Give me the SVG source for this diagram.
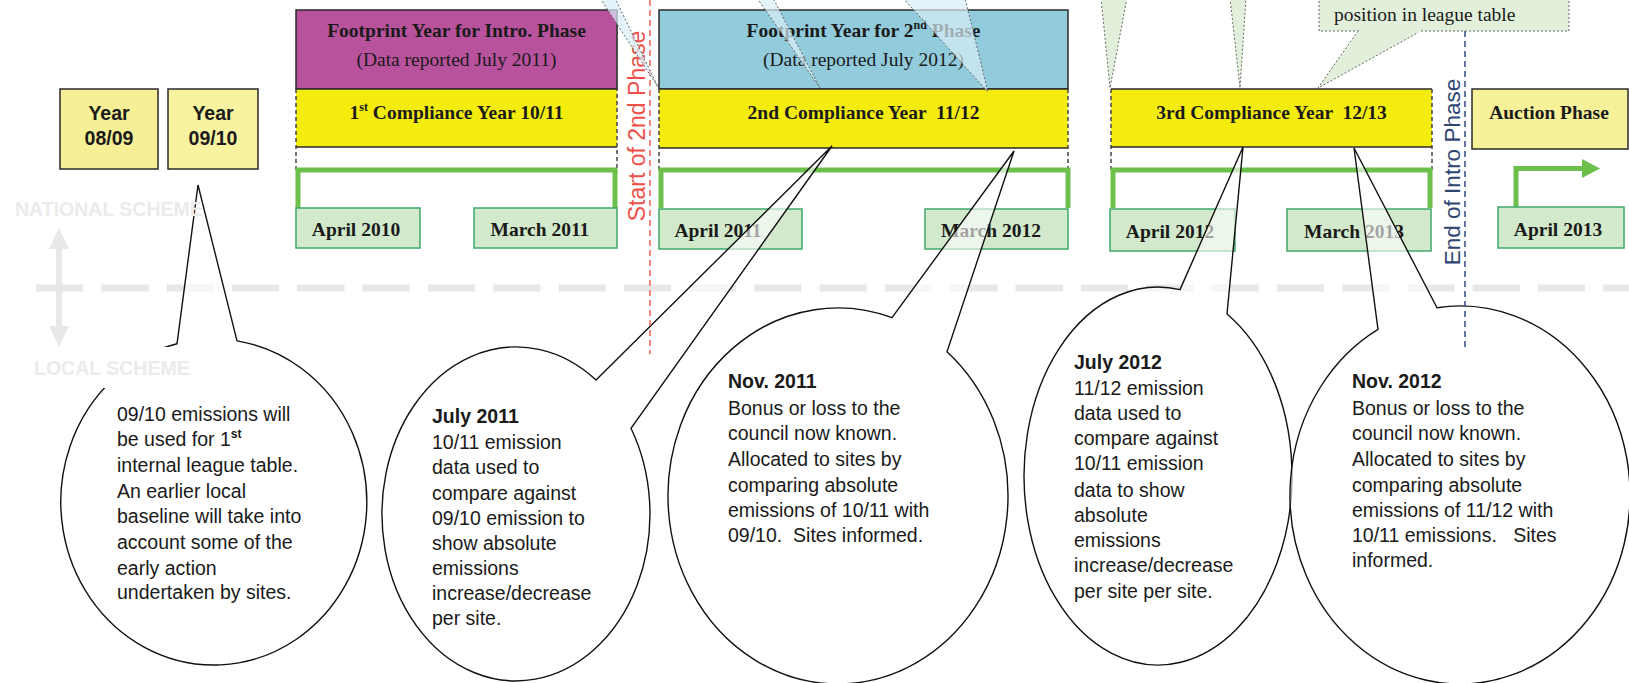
<svg xmlns="http://www.w3.org/2000/svg" width="1629" height="683" viewBox="0 0 1629 683">
<defs>
<style>
.serifb{font-family:"Liberation Serif","Times New Roman",serif;font-weight:bold;font-size:19.5px;fill:#1a1a1a}
.serif{font-family:"Liberation Serif","Times New Roman",serif;font-size:19.5px;fill:#1a1a1a}
.sans{font-family:"Liberation Sans",Arial,sans-serif;font-size:19.5px;fill:#1a1a1a}
.sansb{font-family:"Liberation Sans",Arial,sans-serif;font-size:19.5px;font-weight:bold;fill:#1a1a1a}
.box{stroke:#2a2a2a;stroke-width:1.5}
.solid{stroke:#2a2a2a;stroke-width:1.5;fill:none}
.date{fill:#d3e9cb;stroke:#3fa86a;stroke-width:1.5}
.bracket{fill:none;stroke:#6cbf4a;stroke-width:5}
.edge{stroke:#444;stroke-width:1.5;stroke-dasharray:4 3;fill:none}
.bubble{fill:#fff;fill-opacity:0.6;stroke:#111;stroke-width:1.4}
.wedgeb{fill:#d8eef7;fill-opacity:0.7;stroke:#666;stroke-width:1;stroke-dasharray:2 2}
.wedgeg{fill:#e2efda;stroke:#666;stroke-width:1;stroke-dasharray:2 2}
.scheme{font-family:"Liberation Sans",Arial,sans-serif;font-weight:bold;font-size:19.5px;fill:#ebebeb}
.mid{text-anchor:middle}
</style>
</defs>
<rect width="1629" height="683" fill="#fff"/>

<!-- background guides -->
<g id="guides">
  <line x1="36" y1="288" x2="1629" y2="288" stroke="#e8e8e8" stroke-width="7" stroke-dasharray="47.3 18"/>
  <line x1="59" y1="246" x2="59" y2="329" stroke="#e8e8e8" stroke-width="6"/>
  <polygon points="59,228 49,249 69,249" fill="#e8e8e8"/>
  <polygon points="59,347 49,326 69,326" fill="#e8e8e8"/>
</g>

<!-- year boxes -->
<g id="year0809">
  <rect x="60" y="89" width="98" height="80" fill="#f6ef96" class="box"/>
  <text class="sansb mid" x="109" y="120">Year</text>
  <text class="sansb mid" x="109" y="145">08/09</text>
</g>
<g id="year0910">
  <rect x="168" y="89" width="90" height="80" fill="#f7f3a0" class="box"/>
  <text class="sansb mid" x="213" y="120">Year</text>
  <text class="sansb mid" x="213" y="145">09/10</text>
</g>

<!-- phase 1 -->
<g id="footprint1">
  <rect x="296" y="10" width="321" height="79" fill="#b9529d" class="box"/>
  <text class="serifb mid" x="456.5" y="37">Footprint Year for Intro. Phase</text>
  <text class="serif mid" x="456.5" y="66">(Data reported July 2011)</text>
</g>
<g id="compliance1">
  <rect x="296" y="89" width="321" height="58" fill="#f4ec0c"/>
  <path class="solid" d="M296,89 H617 M296,147 H617"/>
  <path class="edge" d="M296,89 V172 M617,10 V172"/>
  <text class="serifb mid" x="456.5" y="119">1<tspan font-size="12" dy="-8">st</tspan><tspan dy="8"> Compliance Year 10/11</tspan></text>
</g>

<!-- phase 2 -->
<g id="footprint2">
  <rect x="659" y="10" width="409" height="79" fill="#92cbdc" class="box"/>
  <text class="serifb mid" x="863.5" y="37">Footprint Year for 2<tspan font-size="12" dy="-8">nd</tspan><tspan dy="8"> Phase</tspan></text>
  <text class="serif mid" x="863.5" y="66">(Data reported July 2012)</text>
</g>
<g id="compliance2">
  <rect x="659" y="89" width="409" height="59" fill="#f4ec0c"/>
  <path class="solid" d="M659,89 H1068 M659,148 H1068"/>
  <path class="edge" d="M659,89 V172 M1068,89 V172"/>
  <text class="serifb mid" x="863.5" y="119" xml:space="preserve">2nd Compliance Year  11/12</text>
</g>

<!-- phase 3 -->
<g id="compliance3">
  <rect x="1111" y="89" width="321" height="58" fill="#f4ec0c"/>
  <path class="solid" d="M1111,89 H1432 M1111,147 H1432"/>
  <path class="edge" d="M1111,89 V172 M1432,89 V172"/>
  <text class="serifb mid" x="1271.5" y="119" xml:space="preserve">3rd Compliance Year  12/13</text>
</g>

<g id="auction">
  <rect x="1472" y="89" width="156" height="60" fill="#f7f199" class="box"/>
  <text class="serifb mid" x="1549" y="119">Auction Phase</text>
</g>

<!-- green brackets -->
<g id="brackets">
  <path class="bracket" d="M298,208 V170 H615 V208"/>
  <path class="bracket" d="M661,208 V170 H1068 V208"/>
  <path class="bracket" d="M1113,208 V170 H1430 V208"/>
  <path class="bracket" d="M1516,207 V168.5 H1584"/>
  <polygon points="1582,159 1600,168.5 1582,178" fill="#6cbf4a"/>
</g>

<!-- date boxes -->
<g id="april2010"><rect class="date" x="296" y="208" width="124" height="40"/><text class="serifb mid" x="356" y="236">April 2010</text></g>
<g id="march2011"><rect class="date" x="474" y="208" width="143" height="40"/><text class="serifb mid" x="540" y="236">March 2011</text></g>
<g id="april2011"><rect class="date" x="659" y="209" width="143" height="40"/><text class="serifb mid" x="718" y="237">April 2011</text></g>
<g id="march2012"><rect class="date" x="925" y="209" width="143" height="40"/><text class="serifb mid" x="991" y="237">March 2012</text></g>
<g id="april2012"><rect class="date" x="1110" y="209" width="125" height="42"/><text class="serifb mid" x="1170" y="238">April 2012</text></g>
<g id="march2013"><rect class="date" x="1287" y="209" width="144" height="42"/><text class="serifb mid" x="1354" y="238">March 2013</text></g>
<g id="april2013"><rect class="date" x="1498" y="207" width="126" height="41"/><text class="serifb mid" x="1558" y="236">April 2013</text></g>

<!-- speech bubbles (connectors = tails) -->
<g id="connectors">
  <path class="bubble" d="M177,343.8 L198,185 L237,340.9 A153,163 0 1 1 177,343.8 Z"/>
  <path class="bubble" d="M596,380 L832,146 L631,428.3 A134,167 0 1 1 596,380 Z"/>
  <path class="bubble" d="M892,317.7 L1014,151 L947,351.7 A170,188 0 1 1 892,317.7 Z"/>
  <path class="bubble" d="M1180,289.6 L1243,147 L1227,314 A134,189 0 1 1 1180,289.6 Z"/>
  <path class="bubble" d="M1437,307.7 L1354,148 L1378,329.4 A170,189 0 1 0 1437,307.7 Z"/>
</g>

<!-- phase markers -->
<g id="start2nd">
  <line x1="650" y1="0" x2="650" y2="354" stroke="#f0605a" stroke-width="1.5" stroke-dasharray="6 4"/>
  <text transform="translate(645,126) rotate(-90)" text-anchor="middle" font-family="'Liberation Sans',Arial,sans-serif" font-size="23" fill="#f0504a">Start of 2nd Phase</text>
</g>
<g id="endintro">
  <line x1="1465" y1="31" x2="1465" y2="348" stroke="#2f4a80" stroke-width="1.5" stroke-dasharray="6 4"/>
  <text transform="translate(1460,172) rotate(-90)" text-anchor="middle" font-family="'Liberation Sans',Arial,sans-serif" font-size="22.5" fill="#2f4573">End of Intro Phase</text>
</g>

<!-- partial callouts from above -->
<g id="topcallouts">
  <path class="wedgeb" d="M600,-2 L658,87 L615,-2"/>
  <path class="wedgeb" d="M757,-2 L820,88 L773,-2"/>
  <path class="wedgeb" d="M903,-2 L988,92 L965,-2"/>
  <path class="wedgeg" d="M1101,-2 L1110,88 L1127,-2"/>
  <path class="wedgeg" d="M1230,-2 L1240,88 L1246,-2"/>
</g>
<g id="leaguecallout">
  <rect class="wedgeg" x="1319" y="-5" width="250" height="36"/>
  <path class="wedgeg" d="M1358,31 L1318,88 L1421,31"/>
  <rect x="1359" y="29" width="61" height="4" fill="#e2efda"/>
  <text class="serif" x="1334" y="21">position in league table</text>
</g>

<!-- scheme labels -->
<g id="schemes">
  <rect x="30" y="347" width="162" height="41" fill="#fff"/>
  <text class="scheme" x="34" y="375">LOCAL SCHEME</text>
  <text class="scheme" x="15" y="216">NATIONAL SCHEME</text>
</g>

<!-- bubble texts -->
<g id="bubble1">
  <text class="sans">
    <tspan x="117" y="421">09/10 emissions will</tspan>
    <tspan x="117" y="446">be used for 1<tspan font-size="12" font-weight="bold" dy="-8">st</tspan></tspan>
    <tspan x="117" y="472">internal league table.</tspan>
    <tspan x="117" y="498">An earlier local</tspan>
    <tspan x="117" y="523">baseline will take into</tspan>
    <tspan x="117" y="549">account some of the</tspan>
    <tspan x="117" y="575">early action</tspan>
    <tspan x="117" y="599">undertaken by sites.</tspan>
  </text>
</g>
<g id="bubble2">
  <text class="sansb" x="432" y="423">July 2011</text>
  <text class="sans">
    <tspan x="432" y="449">10/11 emission</tspan>
    <tspan x="432" y="474">data used to</tspan>
    <tspan x="432" y="500">compare against</tspan>
    <tspan x="432" y="525">09/10 emission to</tspan>
    <tspan x="432" y="550">show absolute</tspan>
    <tspan x="432" y="575">emissions</tspan>
    <tspan x="432" y="600">increase/decrease</tspan>
    <tspan x="432" y="625">per site.</tspan>
  </text>
</g>
<g id="bubble3">
  <text class="sansb" x="728" y="388">Nov. 2011</text>
  <text class="sans" xml:space="preserve"><tspan x="728" y="415">Bonus or loss to the</tspan><tspan x="728" y="440">council now known.</tspan><tspan x="728" y="466">Allocated to sites by</tspan><tspan x="728" y="492">comparing absolute</tspan><tspan x="728" y="517">emissions of 10/11 with</tspan><tspan x="728" y="542">09/10.  Sites informed.</tspan></text>
</g>
<g id="bubble4">
  <text class="sansb" x="1074" y="369">July 2012</text>
  <text class="sans">
    <tspan x="1074" y="395">11/12 emission</tspan>
    <tspan x="1074" y="420">data used to</tspan>
    <tspan x="1074" y="445">compare against</tspan>
    <tspan x="1074" y="470">10/11 emission</tspan>
    <tspan x="1074" y="497">data to show</tspan>
    <tspan x="1074" y="522">absolute</tspan>
    <tspan x="1074" y="547">emissions</tspan>
    <tspan x="1074" y="572">increase/decrease</tspan>
    <tspan x="1074" y="598">per site per site.</tspan>
  </text>
</g>
<g id="bubble5">
  <text class="sansb" x="1352" y="388">Nov. 2012</text>
  <text class="sans" xml:space="preserve"><tspan x="1352" y="415">Bonus or loss to the</tspan><tspan x="1352" y="440">council now known.</tspan><tspan x="1352" y="466">Allocated to sites by</tspan><tspan x="1352" y="492">comparing absolute</tspan><tspan x="1352" y="517">emissions of 11/12 with</tspan><tspan x="1352" y="542">10/11 emissions.   Sites</tspan><tspan x="1352" y="567">informed.</tspan></text>
</g>
</svg>
